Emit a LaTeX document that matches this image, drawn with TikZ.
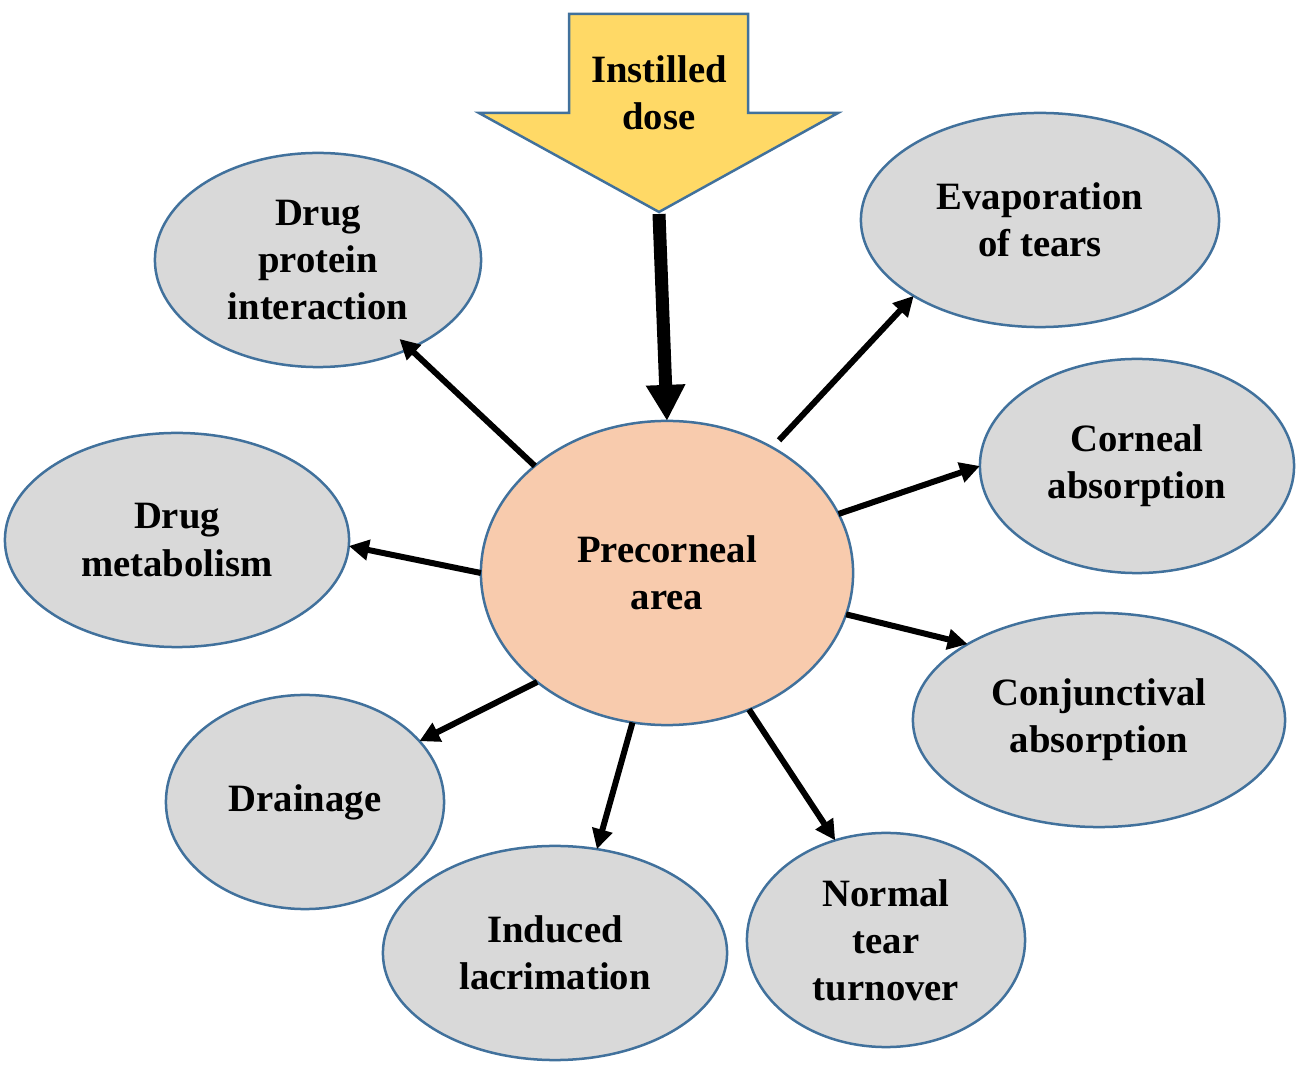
\documentclass[tikz,border=0pt]{standalone}
\usepackage{fontspec}
\setmainfont{Liberation Serif}
\usetikzlibrary{shapes.geometric, arrows.meta}
\definecolor{myblue}{HTML}{41719C}
\definecolor{mygray}{HTML}{D9D9D9}
\definecolor{mypeach}{HTML}{F8CBAD}
\definecolor{myyellow}{HTML}{FFD966}
\tikzset{
	lossnode/.style={
			ellipse,
			draw=myblue,
			line width=0.025cm,
			fill=mygray,
			minimum height=2.14cm,
			inner sep=0pt,
			outer sep=0pt,
			align=center,
			font=\bfseries\fontsize{11}{13.4}\selectfont
		},
	centernode/.style={
			lossnode,
			fill=mypeach,
			minimum width=3.72cm,
			minimum height=3.04cm
		},
	dosetext/.style={
			align=center,
			inner sep=0pt,
			font=\bfseries\fontsize{11}{13.4}\selectfont
		},
	lossarrow/.style={
			line width=0.06cm,
			-{Triangle[length=0.2cm, width=0.2cm]}
		},
	bigarrow/.style={
			line width=0.13cm,
			-{Triangle[length=0.36cm, width=0.37cm]}
		}
}

\begin{document}
\begin{tikzpicture}[x=0.01cm, y=-0.01cm]
\useasboundingbox (0,0) rectangle (1299,1067);
    % instilled dose block arrow
    \draw[draw=myblue, line width=0.025cm, fill=myyellow]
        (569,14) -- (748,14) -- (748,113) -- (838,113) -- (659,212)
        -- (479,113) -- (569,113) -- cycle;
    \coordinate (dosetip) at (659,214);
    \node[dosetext] (dose) at (659,93) {Instilled\\dose};

    \node[centernode] (pre) at (667,573) {Precorneal\\area};

    \node[lossnode, minimum width=3.26cm] (protein) at (318,260) {Drug\\protein\\interaction};
    \node[lossnode, minimum width=3.58cm] (evap) at (1040,220) {Evaporation\\of tears};
    \node[lossnode, minimum width=3.14cm] (corneal) at (1137,466) {Corneal\\absorption};
    \node[lossnode, minimum width=3.44cm] (metab) at (177,540) {Drug\\metabolism};
    \node[lossnode, minimum width=3.72cm] (conj) at (1099,720) {Conjunctival\\absorption};
    \node[lossnode, minimum width=2.78cm] (drain) at (305,802) {Drainage};
    \node[lossnode, minimum width=3.44cm] (induced) at (555,953) {Induced\\lacrimation};
    \node[lossnode, minimum width=2.78cm] (normal) at (886,940) {Normal\\tear\\turnover};

    \draw[bigarrow] (dosetip) -- (pre.north);

    \draw[lossarrow, shorten >=-0.14cm] (pre.141) -- (protein.-44);
    \draw[lossarrow, shorten <=0.1cm] (pre.50) -- (evap.211);
    \draw[lossarrow] (pre.19) -- (corneal.180);
    \draw[lossarrow] (pre.180) -- (metab.-2);
    \draw[lossarrow] (pre.-13) -- (conj.150);
    \draw[lossarrow] (pre.220) -- (drain.28);
    \draw[lossarrow] (pre.257) -- (induced.68);
    \draw[lossarrow] (pre.301) -- (normal.117);

\end{tikzpicture}
\end{document}
